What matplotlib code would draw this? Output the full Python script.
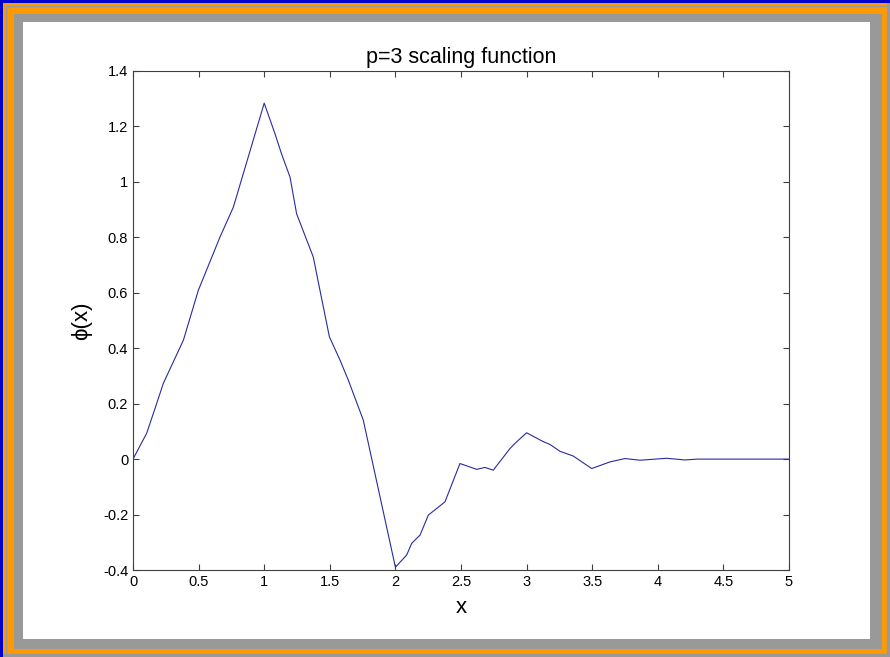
import matplotlib.pyplot as plt
from matplotlib.patches import Rectangle

plt.rcParams['font.family'] = ['Liberation Sans', 'DejaVu Sans']

# scaling function samples, p = 3
x = [0.0, 0.104, 0.168, 0.231, 0.384, 0.498, 0.663, 0.765, 1.0,
     1.082, 1.133, 1.197, 1.247, 1.374, 1.425, 1.497, 1.578, 1.641,
     1.755, 2.0, 2.086, 2.124, 2.188, 2.251, 2.378, 2.492, 2.62,
     2.683, 2.746, 2.873, 2.912, 3.0, 3.127, 3.178, 3.255, 3.356,
     3.496, 3.636, 3.75, 3.864, 4.068, 4.207, 4.3, 5.0]
phi = [0.0, 0.093, 0.183, 0.273, 0.429, 0.609, 0.801, 0.909, 1.284,
       1.174, 1.10, 1.017, 0.885, 0.729, 0.609, 0.441, 0.357, 0.285,
       0.141, -0.39, -0.346, -0.304, -0.274, -0.202, -0.154, -0.016, -0.037,
       -0.030, -0.040, 0.038, 0.057, 0.095, 0.063, 0.053, 0.028, 0.011,
       -0.034, -0.010, 0.002, -0.004, 0.003, -0.003, 0.0, 0.0]

xticks = [0, 0.5, 1, 1.5, 2, 2.5, 3, 3.5, 4, 4.5, 5]
xtick_labels = ['0', '0.5', '1', '1.5', '2', '2.5', '3', '3.5', '4', '4.5', '5']
yticks = [-0.4, -0.2, 0, 0.2, 0.4, 0.6, 0.8, 1, 1.2, 1.4]
ytick_labels = ['-0.4', '-0.2', '0', '0.2', '0.4', '0.6', '0.8', '1', '1.2', '1.4']

W, H = 890, 657
fig = plt.figure(figsize=(W / 100, H / 100), dpi=100)
fig.patch.set_facecolor('#999999')


def frame(x0, y0, x1, y1, **kw):
    # rectangle given in pixels from the top-left corner, kept behind the axes
    fig.patches.append(Rectangle((x0 / W, 1 - y1 / H), (x1 - x0) / W, (y1 - y0) / H,
                                 transform=fig.transFigure, figure=fig,
                                 zorder=-5, **kw))


frame(0, 0, W, 2.5, color='#0000cc', lw=0)
frame(0, 0, 2.5, H, color='#0000cc', lw=0)
frame(2.5, 2.5, 887, 654, color='#ff9900', lw=0)
frame(5.5, 5.5, 887, 654, fill=False, ec='#999999', lw=1.0)
frame(14, 14, 882, 649, color='#999999', lw=0)
frame(23, 22, 870, 639, color='white', lw=0)

ax = fig.add_axes([133 / W, 1 - 570 / H, 656 / W, 499 / H])
ax.plot(x, phi, color='#2a2aa0', lw=0.8)
ax.set_xlim(0, 5)
ax.set_ylim(-0.4, 1.4)
ax.set_xticks(xticks)
ax.set_xticklabels(xtick_labels)
ax.set_yticks(yticks)
ax.set_yticklabels(ytick_labels)
ax.tick_params(direction='in', length=4, width=0.8, color='#404040',
               top=True, right=True, labelsize=10.5, pad=3.5)
for s in ax.spines.values():
    s.set_color('#404040')
    s.set_linewidth(0.8)

ax.set_title('p=3 scaling function', fontsize=15.5, pad=6)
ax.set_xlabel('x', fontsize=16, labelpad=6)
ax.set_ylabel('\u03d5(x)', fontsize=16, labelpad=8)

fig.savefig('out.png', dpi=100, facecolor=fig.get_facecolor())
